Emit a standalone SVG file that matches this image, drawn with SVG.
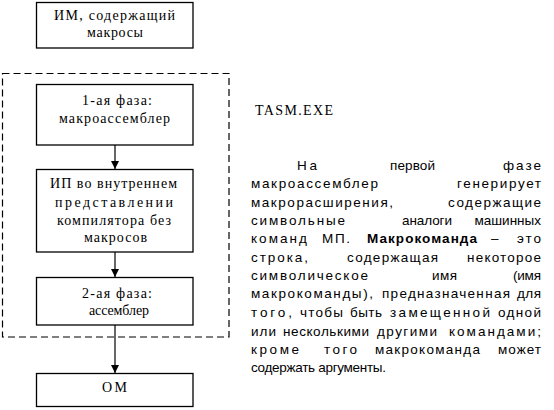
<svg xmlns="http://www.w3.org/2000/svg" width="554" height="410" viewBox="0 0 554 410">
<style>
.box{fill:#fff;stroke:#000;stroke-width:1.3}
.dash{fill:none;stroke:#000;stroke-width:1.2;stroke-dasharray:7 4}
.ln{stroke:#000;stroke-width:1.2;fill:none}
.t{font-family:"Liberation Serif","Times New Roman",serif;font-size:14px;fill:#000}
.a{font-family:"Liberation Sans",Arial,sans-serif;font-size:13.5px;fill:#000}
.e{text-anchor:end}
.b{font-weight:bold}
</style>
<defs>
<marker id="arr" markerWidth="8" markerHeight="9" refX="8" refY="4" orient="auto" markerUnits="userSpaceOnUse">
<path d="M0,0 L8,4 L0,8 Z" fill="#000"/>
</marker>
</defs>
<rect width="554" height="410" fill="#fff"/>
<rect id="group-box" class="dash" x="2.5" y="73.5" width="226.5" height="263.5"/>
<g id="connectors">
<line class="ln" x1="115" y1="145" x2="115" y2="169" marker-end="url(#arr)"/>
<line class="ln" x1="115" y1="252" x2="115" y2="277" marker-end="url(#arr)"/>
<line class="ln" x1="115" y1="325" x2="115" y2="373" marker-end="url(#arr)"/>
</g>
<g id="n-im">
<rect class="box" x="36.5" y="2.5" width="156.5" height="45.5"/>
<text class="t" x="54" y="20" textLength="121">ИМ, содержащий</text>
<text class="t" x="87" y="37" textLength="56">макросы</text>
</g>
<g id="n-phase1">
<rect class="box" x="36.5" y="84.5" width="156.5" height="60.5"/>
<text class="t" x="82" y="105" textLength="70">1-ая фаза:</text>
<text class="t" x="59" y="123" textLength="111">макроассемблер</text>
</g>
<g id="n-ip">
<rect class="box" x="36.5" y="169.5" width="156.5" height="82.5"/>
<text class="t" x="50" y="188" textLength="127">ИП во внутреннем</text>
<text class="t" x="55" y="207" textLength="118">представлении</text>
<text class="t" x="57" y="225" textLength="114">компилятора без</text>
<text class="t" x="84" y="242" textLength="63">макросов</text>
</g>
<g id="n-phase2">
<rect class="box" x="36.5" y="277.5" width="156.5" height="47.5"/>
<text class="t" x="82" y="298" textLength="70">2-ая фаза:</text>
<text class="t" x="89" y="315" textLength="60">ассемблер</text>
</g>
<g id="n-om">
<rect class="box" x="36.5" y="373.5" width="156.5" height="33"/>
<text class="t" x="102" y="392" textLength="25">ОМ</text>
</g>
<g id="tasm">
<text class="t" x="255" y="115" textLength="78">TASM.EXE</text>
</g>
<g id="paragraph">
<text class="a" x="297" y="170" textLength="20">На</text><text class="a" x="390" y="170" textLength="45">первой</text><text class="a" x="503" y="170" textLength="38">фазе</text>
<text class="a" x="251" y="188" textLength="127">макроассемблер</text><text class="a" x="457" y="188" textLength="84">генерирует</text>
<text class="a" x="251" y="207" textLength="142">макрорасширения,</text><text class="a" x="448" y="207" textLength="93">содержащие</text>
<text class="a" x="251" y="225" textLength="94">символьные</text><text class="a" x="402" y="225" textLength="50">аналоги</text><text class="a e" x="541" y="225">машинных</text>
<text class="a" x="251" y="243" textLength="56">команд</text><text class="a" x="322" y="243" textLength="28">МП.</text><text class="a b" x="367" y="243" textLength="110">Макрокоманда</text><text class="a" x="491" y="243" textLength="14">–</text><text class="a" x="517" y="243" textLength="24">это</text>
<text class="a" x="251" y="262" textLength="57">строка,</text><text class="a" x="347" y="262" textLength="91">содержащая</text><text class="a" x="467" y="262" textLength="74">некоторое</text>
<text class="a" x="251" y="280" textLength="117">символическое</text><text class="a" x="432" y="280" textLength="25">имя</text><text class="a" x="513" y="280" textLength="28">(имя</text>
<text class="a" x="251" y="298" textLength="122">макрокоманды),</text><text class="a" x="382" y="298" textLength="128">предназначенная</text><text class="a" x="517" y="298" textLength="24">для</text>
<text class="a" x="251" y="317" textLength="41">того,</text><text class="a" x="300" y="317" textLength="43">чтобы</text><text class="a" x="350" y="317" textLength="32">быть</text><text class="a" x="390" y="317" textLength="100">замещенной</text><text class="a" x="498" y="317" textLength="43">одной</text>
<text class="a" x="251" y="336" textLength="25">или</text><text class="a" x="283" y="336" textLength="86">несколькими</text><text class="a" x="377" y="336" textLength="60">другими</text><text class="a" x="449" y="336" textLength="92">командами;</text>
<text class="a" x="251" y="354" textLength="48">кроме</text><text class="a" x="324" y="354" textLength="33">того</text><text class="a" x="375" y="354" textLength="105">макрокоманда</text><text class="a" x="498" y="354" textLength="43">может</text>
<text class="a" x="251" y="372" textLength="135">содержать аргументы.</text>
</g>
</svg>
